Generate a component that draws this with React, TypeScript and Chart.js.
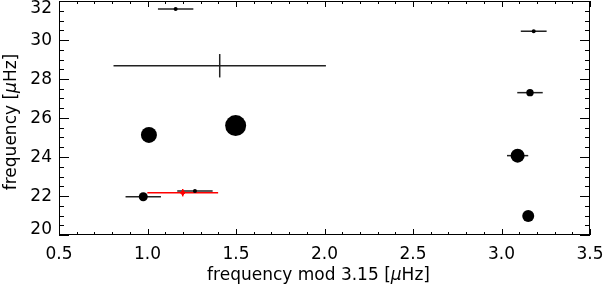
import React, { useEffect, useRef } from 'react';
import { Chart, registerables } from 'chart.js';

Chart.register(...registerables);

// Black measurements
const xVals = [1.159, 1.408, 1.008, 1.498, 3.182, 3.161, 3.091, 3.151, 0.976, 1.268];
const yVals = [31.59, 28.68, 25.13, 25.61, 30.45, 27.30, 24.07, 20.97, 21.96, 22.26];
const xErrs = [0.10, 0.60, 0, 0, 0.073, 0.072, 0.06, 0, 0.10, 0.10];
const yErrs = [0, 0.60, 0, 0, 0, 0, 0, 0, 0, 0];
const sizes = [2, 0, 8, 10.5, 2, 3.7, 7, 6, 4.5, 2];

// Red measurement
const redX = [1.199];
const redY = [22.17];
const redXErr = [0.2];
const redYErr = [0.19];

// Axes
const xTickValues = [0.5, 1.0, 1.5, 2.0, 2.5, 3.0, 3.5];
const xTickLabels = ['0.5', '1.0', '1.5', '2.0', '2.5', '3.0', '3.5'];
const yTickValues = [20, 22, 24, 26, 28, 30, 32];
const yTickLabels = ['20', '22', '24', '26', '28', '30', '32'];
const xMinorStep = 0.1;
const yMinorStep = 0.5;
const xTitle = ['frequency mod 3.15 [', 'μ', 'Hz]'];
const yTitle = ['frequency [', 'μ', 'Hz]'];

const FONT = '"DejaVu Sans", sans-serif';

function drawSegments(ctx: CanvasRenderingContext2D, segs: string[], size: number) {
  const fonts = segs.map((_, i) => (i === 1 ? `italic ${size}px ${FONT}` : `${size}px ${FONT}`));
  const widths = segs.map((s, i) => {
    ctx.font = fonts[i];
    return ctx.measureText(s).width;
  });
  const total = widths.reduce((a, b) => a + b, 0);
  let x = -total / 2;
  segs.forEach((s, i) => {
    ctx.font = fonts[i];
    ctx.fillText(s, x, 0);
    x += widths[i];
  });
}

const idlPlugin = {
  id: 'idlAxes',
  beforeDatasetsDraw(chart: any) {
    const ctx: CanvasRenderingContext2D = chart.ctx;
    const xs = chart.scales.x;
    const ys = chart.scales.y;
    ctx.save();
    ctx.lineWidth = 1.5;
    const bars = (xa: number[], ya: number[], xe: number[], ye: number[], color: string) => {
      ctx.strokeStyle = color;
      for (let i = 0; i < xa.length; i++) {
        const px = xs.getPixelForValue(xa[i]);
        const py = ys.getPixelForValue(ya[i]);
        if (xe[i] > 0) {
          ctx.beginPath();
          ctx.moveTo(xs.getPixelForValue(xa[i] - xe[i]), py);
          ctx.lineTo(xs.getPixelForValue(xa[i] + xe[i]), py);
          ctx.stroke();
        }
        if (ye[i] > 0) {
          ctx.beginPath();
          ctx.moveTo(px, ys.getPixelForValue(ya[i] - ye[i]));
          ctx.lineTo(px, ys.getPixelForValue(ya[i] + ye[i]));
          ctx.stroke();
        }
      }
    };
    bars(xVals, yVals, xErrs, yErrs, '#222');
    bars(redX, redY, redXErr, redYErr, '#ff0000');
    ctx.restore();
  },
  afterDraw(chart: any) {
    const ctx: CanvasRenderingContext2D = chart.ctx;
    const xs = chart.scales.x;
    const ys = chart.scales.y;
    const a = chart.chartArea;
    ctx.save();
    ctx.strokeStyle = '#000';
    ctx.lineWidth = 1;
    ctx.strokeRect(Math.round(a.left) + 0.5, Math.round(a.top) + 0.5, Math.round(a.right - a.left) - 1, Math.round(a.bottom - a.top) - 1);

    ctx.beginPath();
    const nx = Math.round((xs.max - xs.min) / xMinorStep);
    for (let i = 0; i <= nx; i++) {
      const v = xs.min + i * xMinorStep;
      const major = i % 5 === 0;
      const len = major ? 6 : 3;
      const px = Math.round(xs.getPixelForValue(v)) + 0.5;
      ctx.moveTo(px, a.bottom);
      ctx.lineTo(px, a.bottom - len);
      ctx.moveTo(px, a.top);
      ctx.lineTo(px, a.top + len);
    }
    const ny = Math.round((ys.max - ys.min) / yMinorStep);
    for (let i = 0; i <= ny; i++) {
      const v = ys.min + i * yMinorStep;
      const major = i % 4 === 0;
      const len = major ? 10 : 5;
      const py = Math.round(ys.getPixelForValue(v)) + 0.5;
      ctx.moveTo(a.left, py);
      ctx.lineTo(a.left + len, py);
      ctx.moveTo(a.right, py);
      ctx.lineTo(a.right - len, py);
    }
    ctx.stroke();

    ctx.fillStyle = '#000';
    ctx.font = `17px ${FONT}`;
    ctx.textAlign = 'center';
    ctx.textBaseline = 'middle';
    xTickValues.forEach((v, i) => {
      ctx.fillText(xTickLabels[i], xs.getPixelForValue(v), a.bottom + 20);
    });
    ctx.textAlign = 'right';
    yTickValues.forEach((v, i) => {
      const py = Math.min(Math.max(ys.getPixelForValue(v) + 1, a.top + 8), a.bottom - 5);
      ctx.fillText(yTickLabels[i], a.left - 7, py);
    });

    ctx.textAlign = 'left';
    ctx.textBaseline = 'middle';
    ctx.save();
    ctx.translate(318.5, a.bottom + 41);
    drawSegments(ctx, xTitle, 17);
    ctx.restore();
    ctx.save();
    ctx.translate(12, 122);
    ctx.rotate(-Math.PI / 2);
    drawSegments(ctx, yTitle, 17);
    ctx.restore();
    ctx.restore();
  },
};

export default function App() {
  const ref = useRef<HTMLCanvasElement>(null);
  useEffect(() => {
    if (!ref.current) return;
    const chart = new Chart(ref.current, {
      type: 'scatter',
      data: {
        datasets: [
          {
            data: xVals.map((x, i) => ({ x, y: yVals[i] })),
            pointRadius: sizes,
            pointBackgroundColor: '#000',
            pointBorderWidth: 0,
            pointHoverRadius: sizes,
          },
          {
            data: redX.map((x, i) => ({ x, y: redY[i] })),
            pointRadius: 2.5,
            pointStyle: 'rectRot',
            pointBackgroundColor: '#ff0000',
            pointBorderColor: '#ff0000',
            pointBorderWidth: 1,
          },
        ],
      },
      options: {
        responsive: false,
        animation: false,
        layout: { autoPadding: false, padding: { left: 59, right: 13, top: 1, bottom: 53 } },
        scales: {
          x: { type: 'linear', min: 0.5, max: 3.5, display: false },
          y: { type: 'linear', min: 20, max: 32, display: false },
        },
        plugins: { legend: { display: false }, tooltip: { enabled: false } },
        events: [],
      },
      plugins: [idlPlugin],
    });
    return () => chart.destroy();
  }, []);
  return (
    <div style={{ position: 'absolute', left: 0, top: 0, width: 603, height: 288, background: '#fff' }}>
      <canvas ref={ref} width={603} height={288} style={{ display: 'block' }} />
    </div>
  );
}
